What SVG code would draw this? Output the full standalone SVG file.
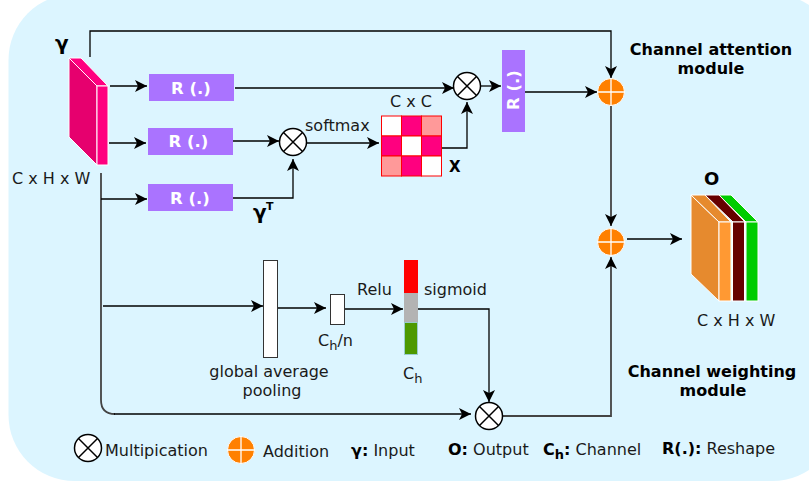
<svg xmlns="http://www.w3.org/2000/svg" width="809" height="487" viewBox="0 0 809 487">
<style>
text{font-family:"DejaVu Sans",sans-serif;font-size:16px;fill:#1a1a1a}
.b{font-weight:bold;fill:#000}
.w{font-weight:bold;fill:#fff;font-size:16.500px;text-anchor:middle}
.c{fill:none;stroke:#000;stroke-width:1.3;marker-end:url(#a)}
.n{fill:none;stroke:#000;stroke-width:1.3}
.d{stroke:#444;stroke-width:1.8}
.r{fill:#aa73ff}
.f{stroke:#fff;stroke-width:1}
.m{fill:#fff;stroke:#000;stroke-width:1.5}
.o{fill:#ff8000;stroke:#fff;stroke-width:1}
.cell{stroke:#f00;stroke-width:1}
</style>
<defs>
<marker id="a" markerUnits="userSpaceOnUse" markerWidth="14" markerHeight="14" refX="12" refY="6" orient="auto" overflow="visible"><path d="M0 0L12 6L0 12L3 6Z" fill="#000"/></marker>
<symbol id="mul" overflow="visible"><circle class="m" cx="0" cy="0" r="13.500"/><path d="M-9.500-9.500L9.500 9.500M-9.500 9.500L9.500-9.500" stroke="#000" stroke-width="1.500"/></symbol>
<symbol id="add" overflow="visible"><circle class="o" cx="0" cy="0" r="13.500"/><path d="M-13.500 0H13.500M0-13.500V13.500" stroke="#fff" stroke-width="1.300"/></symbol>
</defs>
<rect id="background" x="8.500" y="-6" width="830" height="487" rx="66" fill="#dcf5ff"/>
<g id="connectors">
<path class="c" d="M90 57V31H611V78"/>
<path class="c" d="M110 86H147"/>
<path class="c" d="M109 143H146"/>
<path class="n d" d="M101 173V400Q101 414 115 414"/>
<path class="c" d="M114 414H471"/>
<path class="c" d="M101 199H147"/>
<path class="c" d="M235 88H454"/>
<path class="c" d="M481 86H501"/>
<path class="c" d="M525 92H597"/>
<path class="c" d="M233 141H279"/>
<path class="c" d="M233 198H293V159"/>
<path class="c" d="M307 143H379"/>
<path class="c" d="M442 148H467V102"/>
<path class="c d" d="M611 106V226"/>
<path class="c d" d="M503 416H611V257"/>
<path class="c" d="M627 239H682"/>
<path class="c" d="M103 306H263"/>
<path class="c" d="M277 308H326"/>
<path class="c" d="M345 309H403"/>
<path class="c" d="M418 309H489V402"/>
</g>
<g id="input-tensor">
<path class="f" d="M69 58L97 86V165L69 137Z" fill="#e6006e"/>
<path class="f" d="M69 58H81L108 86H97Z" fill="#ff007f"/>
<rect class="f" x="97" y="86" width="11" height="79" fill="#ff007f"/>
<text class="b" x="55" y="50" style="font-size:20px">γ</text>
<text x="12" y="184">C x H x W</text>
</g>
<g id="reshape-1"><rect class="r" x="149" y="74" width="85" height="27"/><text class="w" x="191" y="94">R (.)</text></g>
<g id="reshape-2"><rect class="r" x="148" y="128" width="85" height="27"/><text class="w" x="188.500" y="147">R (.)</text></g>
<g id="reshape-3"><rect class="r" x="148" y="184" width="85" height="27"/><text class="w" x="190" y="204">R (.)</text></g>
<g id="label-yt"><text class="b" x="253" y="219" style="font-size:20px">γ</text><text class="b" x="266" y="210" style="font-size:11px">T</text></g>
<g id="mult-1"><use href="#mul" x="293" y="142"/><text x="305" y="131">softmax</text></g>
<g id="matrix">
<rect class="cell" x="381.500" y="116" width="20" height="20" fill="#fff"/>
<rect class="cell" x="401.500" y="116" width="20" height="20" fill="#ff007f"/>
<rect class="cell" x="421.500" y="116" width="20" height="20" fill="#ff9999"/>
<rect class="cell" x="381.500" y="136" width="20" height="20" fill="#ff007f"/>
<rect class="cell" x="401.500" y="136" width="20" height="20" fill="#fff"/>
<rect class="cell" x="421.500" y="136" width="20" height="20" fill="#ff007f"/>
<rect class="cell" x="381.500" y="156" width="20" height="20" fill="#ff9999"/>
<rect class="cell" x="401.500" y="156" width="20" height="20" fill="#ff007f"/>
<rect class="cell" x="421.500" y="156" width="20" height="20" fill="#fff"/>
<text x="390" y="107">C x C</text>
<text class="b" x="449" y="172" style="font-size:15px">X</text>
</g>
<g id="mult-2"><use href="#mul" x="467" y="86"/></g>
<g id="reshape-4"><rect class="r" x="502" y="50" width="23" height="82"/><text class="w" transform="translate(519 90) rotate(-90)">R (.)</text></g>
<g id="add-1"><use href="#add" x="611" y="92"/></g>
<g id="add-2"><use href="#add" x="611" y="242"/></g>
<g id="channel-attention-label"><text class="b" x="711" y="55" text-anchor="middle">Channel attention</text><text class="b" x="711" y="74" text-anchor="middle">module</text></g>
<g id="output-tensor">
<path class="f" d="M691 195L719 222V301L691 274Z" fill="#e68a2e"/>
<path class="f" d="M719 195H731L758 222H746Z" fill="#00cc00"/>
<path class="f" d="M705 195H719L745 222H733Z" fill="#660000"/>
<path class="f" d="M691 195H705L731 222H719Z" fill="#e68a2e"/>
<rect class="f" x="719" y="222" width="12" height="79" fill="#ff9933"/>
<rect class="f" x="732.500" y="222" width="12" height="79" fill="#660000"/>
<rect class="f" x="746" y="222" width="12" height="79" fill="#00cc00"/>
<text class="b" x="704" y="185" style="font-size:18px">O</text>
<text x="697" y="326">C x H x W</text>
</g>
<g id="pooling"><rect x="263.500" y="260.500" width="14" height="97" fill="#fff" stroke="#333" stroke-width="1"/><text x="269" y="377" text-anchor="middle">global average</text><text x="272" y="396" text-anchor="middle">pooling</text></g>
<g id="bottleneck"><rect x="330.500" y="294.500" width="14" height="30" fill="#fff" stroke="#333" stroke-width="1"/><text x="318" y="346">C<tspan dy="4" font-size="13">h</tspan><tspan dy="-4">/n</tspan></text><text x="357" y="295">Relu</text></g>
<g id="channel-weights">
<rect x="404" y="260" width="14" height="33" fill="#f00"/>
<rect x="404" y="293" width="14" height="29" fill="#b3b3b3"/>
<rect x="404.500" y="322.500" width="13" height="32" fill="#4d9900" stroke="#9cc" stroke-width="1"/>
<text x="424" y="295">sigmoid</text>
<text x="403" y="379">C<tspan dy="4" font-size="13">h</tspan></text>
</g>
<g id="mult-3"><use href="#mul" x="489" y="416"/></g>
<g id="channel-weighting-label"><text class="b" x="712" y="377" text-anchor="middle">Channel weighting</text><text class="b" x="713" y="396" text-anchor="middle">module</text></g>
<g id="legend">
<use href="#mul" x="88" y="448"/><text x="105" y="456">Multipication</text>
<use href="#add" x="241" y="450"/><text x="263" y="457">Addition</text>
<text x="351" y="456"><tspan class="b">γ:</tspan> Input</text>
<text x="448" y="455"><tspan class="b">O:</tspan> Output</text>
<text x="543" y="455"><tspan class="b">C</tspan><tspan class="b" dy="4" font-size="13">h</tspan><tspan class="b" dy="-4">:</tspan> Channel</text>
<text x="662" y="454"><tspan class="b">R(.):</tspan> Reshape</text>
</g>
</svg>
